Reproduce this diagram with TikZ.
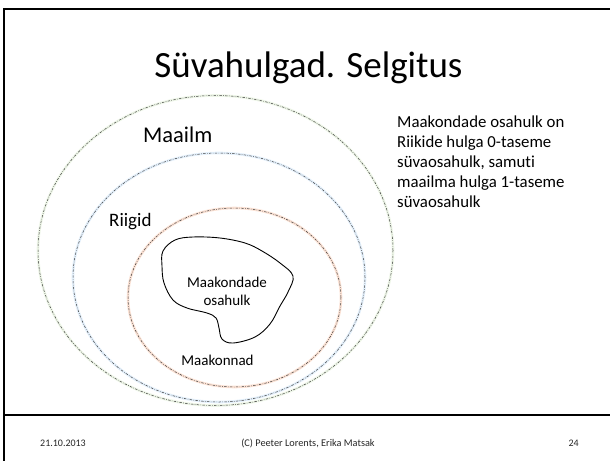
\documentclass[tikz,border=0pt]{standalone}
\usepackage{fontspec}
\setmainfont{Carlito}[Ligatures=NoCommon]
\usetikzlibrary{shapes.geometric}
\definecolor{halogreen}{HTML}{EEF6E8}
\definecolor{haloblue}{HTML}{E4F0FB}
\definecolor{halored}{HTML}{FBE2D5}
\tikzset{
  setring/.style={ellipse, inner sep=0pt, draw=black!75,
    line width=0.5pt, dash pattern=on 2.4pt off 1.4pt on 0.6pt off 1.4pt,
    preaction={draw=#1, line width=2.6pt, solid}},
  frameline/.style={line width=2.4pt, black},
  lbl/.style={inner sep=0pt, text=black},
}
\begin{document}
\begin{tikzpicture}[x=1pt,y=-1pt]
\useasboundingbox (0,0) rectangle (610,461);
% frame
\draw[frameline] (610,9) -- (4,9) -- (4,461);
\draw[line width=2pt] (4,415) -- (610,415);
% title
\node[lbl, anchor=base, font=\fontsize{37}{40}\selectfont] (title) at (308.5,77) {Süvahulgad. Selgitus};
% rings
\node[setring=halogreen, minimum width=355pt, minimum height=310pt] (maailm) at (215.5,250.5) {};
\node[setring=haloblue, minimum width=292pt, minimum height=249pt] (riigid) at (219,277.5) {};
\node[setring=halored, minimum width=213pt, minimum height=179pt] (maakonnad) at (234.5,297.5) {};
% blob
\draw[black, line width=0.9pt] plot[smooth cycle, tension=0.6] coordinates {
  (163,251) (175,240) (193,237) (220,238) (245,243) (262,251) (280,263) (293,276)
  (288,292) (280,306) (270,324) (255,337) (233,343) (222,339) (219,328) (216,318)
  (207,313) (187,308) (173,300) (164,283) (162,266)};
% labels
\node[lbl, anchor=base west, font=\fontsize{22.5}{26}\selectfont] (lmaailm) at (143,142) {Maailm};
\node[lbl, anchor=base west, font=\fontsize{19}{22}\selectfont] (lriigid) at (109,226) {Riigid};
\node[lbl, anchor=base, font=\fontsize{15}{17.5}\selectfont, align=center] (lblob) at (227,305) {Maakondade\\osahulk};
\node[lbl, anchor=base, font=\fontsize{15}{17}\selectfont] (lmaak) at (217.5,365) {Maakonnad};
% explanation
\node[lbl, anchor=base west, font=\fontsize{16.8}{20.2}\selectfont, align=left] (expl) at (397,207.8)
  {Maakondade osahulk on\\Riikide hulga 0-taseme\\süvaosahulk, samuti\\maailma hulga 1-taseme\\süvaosahulk};
% footer
\node[lbl, anchor=west, font=\fontsize{10}{12}\selectfont, text=black!85] (date) at (40,443) {21.10.2013};
\node[lbl, anchor=center, font=\fontsize{10.3}{12}\selectfont, text=black!85] (authors) at (308,443) {(C) Peeter Lorents, Erika Matsak};
\node[lbl, anchor=east, font=\fontsize{10}{12}\selectfont, text=black!85] (page) at (579,443) {24};
\end{tikzpicture}
\end{document}
